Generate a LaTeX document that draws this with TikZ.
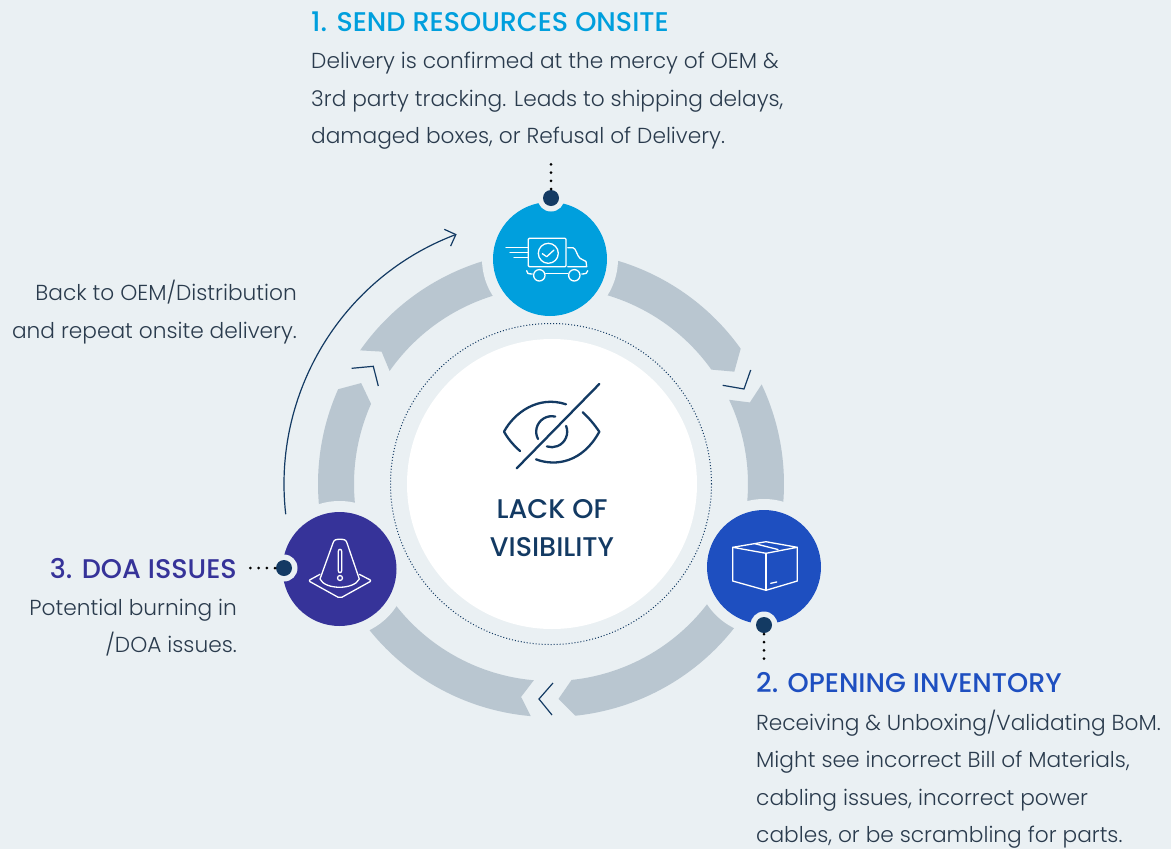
\documentclass[tikz,border=0pt]{standalone}
\usepackage{fontspec}
\setmainfont{Poppins Light}
\newfontfamily\headfont{Poppins Medium}
\usetikzlibrary{arrows.meta}
\definecolor{pagebg}{HTML}{EAF0F3}
\definecolor{bandgray}{HTML}{B9C6D0}
\definecolor{navy}{HTML}{133A63}
\definecolor{bodygray}{HTML}{2A3B4D}
\definecolor{stepone}{HTML}{009FDD}
\definecolor{steptwo}{HTML}{1E4FC0}
\definecolor{stepthree}{HTML}{363399}
\tikzset{
  stepcirc/.style={circle,minimum size=114pt,inner sep=0pt},
  halo/.style={circle,fill=pagebg,minimum size=136pt,inner sep=0pt},
  pin/.style={circle,fill=navy,minimum size=16pt,inner sep=0pt},
  pinhalo/.style={circle,fill=pagebg,minimum size=27pt,inner sep=0pt},
  leader/.style={black,line width=3pt,line cap=round,dash pattern=on 0pt off 8.2pt,dash phase=7.4pt},
  chevron/.style={navy,line width=1.2pt},
  icon/.style={white,line width=1.3pt,line join=round,line cap=round},
  eyeline/.style={navy,line width=2.3pt,line cap=round,line join=round},
  head/.style={inner sep=0pt,font=\headfont\fontsize{27}{30}\selectfont},
  body/.style={inner sep=0pt,text=bodygray,font=\fontsize{21.7}{37.4}\selectfont}
}
% one grey piece of the ring, clockwise from #1 to #2
\newcommand{\bandpiece}[2]{
  \fill[bandgray] (#1:233) arc (#1:#2:233) -- ({#2-4}:215) -- (#2:197) arc (#2:#1:197) -- ({#1-3}:215) -- cycle;
}
\begin{document}
\begin{tikzpicture}[x=1pt,y=-1pt]
\useasboundingbox[fill=pagebg] (0,0) rectangle (1171,849);

\begin{scope}[shift={(551,484)},y=1pt]
\bandpiece{90}{35.5}
\bandpiece{25.3}{-21}
\bandpiece{-21}{-84}
\bandpiece{-95}{-158}
\bandpiece{-158}{-204}
\bandpiece{145}{90}
\end{scope}

\node[halo] (halotruck) at (550,259) {};
\node[halo] (halobox) at (764,567) {};
\node[halo] (halocone) at (339.5,569) {};
\node[circle,fill=white,minimum size=290pt,inner sep=0pt] (hub) at (552,484) {};
\node[circle,draw=navy,line width=1pt,dash pattern=on 1pt off 2pt,minimum size=321pt,inner sep=0pt] (hubring) at (551,484) {};
\node[stepcirc,fill=stepone] (truck) at (550,259) {};
\node[stepcirc,fill=steptwo] (box) at (764,567) {};
\node[stepcirc,fill=stepthree] (cone) at (339.5,569) {};

\node[pinhalo] (pinhaloone) at (551,198) {};
\node[pinhalo] (pinhalotwo) at (764,625) {};
\node[pinhalo] (pinhalothree) at (284,568) {};
\node[pin] (pinone) at (551,198) {};
\node[pin] (pintwo) at (764,625) {};
\node[pin] (pinthree) at (284,568) {};
\coordinate (leadone) at (551,163);
\coordinate (leadtwo) at (764,660);
\coordinate (leadthree) at (249,568);
\draw[leader] (pinone.north) -- (leadone);
\draw[leader] (pintwo.south) -- (leadtwo);
\draw[leader] (pinthree.west) -- (leadthree);

% chevrons
\coordinate (cha1) at (722.7,385.3);
\coordinate (cha2) at (744,389);
\coordinate (cha3) at (750.7,370);
\coordinate (chb1) at (553,683);
\coordinate (chb2) at (539,699);
\coordinate (chb3) at (552,715);
\coordinate (chc1) at (351.7,368.3);
\coordinate (chc2) at (373.3,366.3);
\coordinate (chc3) at (378.3,386);
\draw[chevron] (cha1) -- (cha2) -- (cha3);
\draw[chevron] (chb1) -- (chb2) -- (chb3);
\draw[chevron] (chc1) -- (chc2) -- (chc3);

% long arrow back to the truck
\begin{scope}[shift={(551,484)},y=1pt]
\coordinate (backstart) at (186.5:267);
\draw[navy,line width=1.2pt,-{Straight Barb[length=9pt,width=18pt]}] (backstart) arc (186.5:110.7:267);
\end{scope}

% truck
\draw[icon,rounded corners=1pt] (528.3,238.3) rectangle (566,266.7);
\draw[icon] (506,247.3) -- (528,247.3);
\draw[icon] (510,252.3) -- (528,252.3);
\draw[icon] (514,257.3) -- (528,257.3);
\draw[icon] (548.3,253.3) circle (10);
\draw[icon] (542.3,253.7) -- (546.7,256.7) -- (554,250);
\draw[icon] (567.7,247.7) -- (573,247.7) .. controls (576,248) and (577,256) .. (580,258.3) -- (586,261.5) -- (586.7,266.7) -- (567.7,266.7);
\draw[icon] (539.3,275.3) circle (5.7);
\draw[icon] (574.3,275.3) circle (5.7);
\draw[icon] (545.7,273.7) -- (567.7,273.7);
\draw[icon] (526.7,270.7) .. controls (526.7,273) and (527.5,274) .. (532.3,274);
\draw[icon] (581.7,274) .. controls (586,274) and (587.7,273) .. (587.7,270.7);

% box
\draw[icon] (732.7,547.3) -- (766,553.3) -- (797.3,547.3) -- (766,541.7) -- cycle;
\draw[icon] (732.7,547.3) -- (732.7,581) -- (766,590.3) -- (797.3,581) -- (797.3,547.3);
\draw[icon] (766,553.3) -- (766,590.3);
\draw[icon] (755,543.7) -- (778,549.5);
\draw[icon] (770.7,583.3) -- (776.7,582);

% cone
\draw[icon] (320,579) -- (333,543) .. controls (334,539.5) and (336,539.3) .. (340,539.3) .. controls (344,539.3) and (346,539.5) .. (347,543) -- (359.3,579) .. controls (354,590) and (325,590) .. (320,579);
\draw[icon,rounded corners=2pt] (338.3,549.3) rectangle (341.7,572.7);
\draw[icon] (340,578) circle (2.5);
\draw[icon,rounded corners=2pt] (320,574.3) -- (308.3,580.7) -- (340,598.3) -- (371.7,580.7) -- (359.3,574.3);

% crossed eye
\draw[eyeline] (520,451) .. controls (512,444) and (507,437) .. (504,431.7) .. controls (514,413) and (538,395) .. (566,404.3);
\draw[eyeline] (536,459.3) .. controls (556,467) and (583,462) .. (599.3,431.7) .. controls (594,424) and (589,418) .. (582.7,412.3);
\begin{scope}[shift={(551.7,431.7)},y=1pt]
\draw[eyeline] (77:15.5) arc (77:208:15.5);
\draw[eyeline] (22:15.5) arc (22:-108:15.5);
\end{scope}
\draw[eyeline] (599.3,384) -- (516.7,468.3);

\node[head,text=navy,align=center,font=\headfont\fontsize{27}{38}\selectfont] (hublabel) at (552,528) {LACK OF\\VISIBILITY};

\node[head,text=stepone,anchor=base west] (titleone) at (311,31) {1. SEND RESOURCES ONSITE};
\node[body,anchor=north west,align=left] (textone) at (311,52) {Delivery is confirmed at the mercy of OEM \&\\3rd party tracking. Leads to shipping delays,\\damaged boxes, or Refusal of Delivery.};
\node[head,text=steptwo,anchor=base west] (titletwo) at (756,692) {2. OPENING INVENTORY};
\node[body,anchor=north west,align=left] (texttwo) at (756,709.7) {Receiving \& Unboxing/Validating BoM.\\Might see incorrect Bill of Materials,\\cabling issues, incorrect power\\cables, or be scrambling for parts.};
\node[head,text=stepthree,anchor=base east] (titlethree) at (237,578) {3. DOA ISSUES};
\node[body,anchor=north east,align=right] (textthree) at (237,599) {Potential burning in\\/DOA issues.};
\node[body,anchor=north east,align=right] (textback) at (297,280) {Back to OEM/Distribution\\and repeat onsite delivery.};
\end{tikzpicture}
\end{document}
